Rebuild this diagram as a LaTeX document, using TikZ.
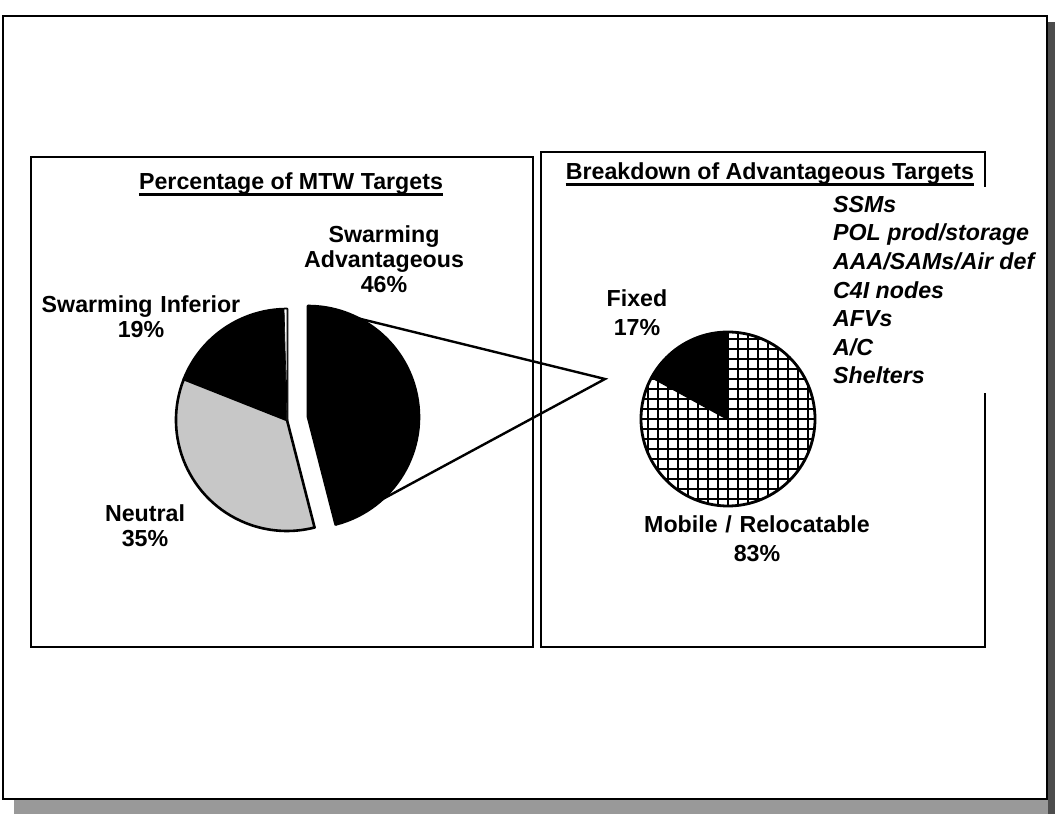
\documentclass[tikz,border=0pt]{standalone}
\usepackage{fontspec}
\setmainfont{Liberation Sans}
\usepackage{tikz}

\begin{document}
\begin{tikzpicture}[x=1pt, y=1pt,
    lbl/.style={font=\fontsize{23.2}{25}\selectfont\bfseries, align=center, text width=260pt, anchor=base, inner sep=0pt},
    lblwide/.style={lbl, font=\fontsize{23.2}{28.5}\selectfont\bfseries},
    ttl/.style={font=\fontsize{23.2}{25}\selectfont\bfseries, anchor=base, inner sep=0pt},
    listbox/.style={font=\fontsize{23.2}{28.6}\selectfont\bfseries\itshape, align=left, anchor=north west, fill=white, inner xsep=4pt, inner ysep=9pt},
    uline/.style={line width=2.2pt},
    panel/.style={line width=1.1pt},
    slice/.style={draw=black, line width=2.6pt, line join=round},
    zoomline/.style={line width=2.4pt, line join=miter}]
    \useasboundingbox (0,0) rectangle (1055,814);
    \fill[black!40] (14,0) rectangle (1055,15);
    \fill[black!70] (1048,0) rectangle (1055,792);
    \draw[panel] (31,167) rectangle (533,657);
    \draw[panel] (541,167) rectangle (985,662);

    \node[ttl] (ttlLeft) at (291,624) {Percentage of MTW Targets};
    \node[ttl] (ttlRight) at (770,634) {Breakdown of Advantageous Targets};
    \draw[uline] ([yshift=-4.5pt]ttlLeft.base west) -- ([yshift=-4.5pt]ttlLeft.base east);
    \draw[uline] ([yshift=-4.5pt]ttlRight.base west) -- ([yshift=-4.5pt]ttlRight.base east);

    \coordinate (mtwC) at (287,394);
    \coordinate (advC) at (308,397);
    \filldraw[slice, fill=black] (mtwC) -- ++(90:111) arc[start angle=90, end angle=158.4, radius=111] -- cycle;
    \filldraw[slice, fill=black!22] (mtwC) -- ++(158.4:111) arc[start angle=158.4, end angle=284.4, radius=111] -- cycle;
    \filldraw[fill=white, line width=0.6pt] (mtwC) -- ++(90:111) arc[start angle=90, end angle=91.5, radius=111] -- cycle;
    \filldraw[slice, fill=black] (advC) -- ++(-75.6:111) arc[start angle=-75.6, end angle=90, radius=111] -- cycle;
    \path (advC) ++(90:111) coordinate (advTop);
    \path (advC) ++(-75.6:111) coordinate (advBot);
    \coordinate (apex) at (605,435);
    \draw[zoomline] (advTop) -- (apex) -- (advBot);

    \node[lbl] (infLbl) at (141,501) {Swarming Inferior\\19\%};
    \node[lbl] (advLbl) at (384,571) {Swarming\\Advantageous\\46\%};
    \node[lbl] (neuLbl) at (145,292) {Neutral\\35\%};

    \coordinate (brkC) at (728,395);
    \fill[white] (brkC) circle[radius=87];
    \begin{scope}
      \clip (brkC) -- ++(151.2:87) arc[start angle=151.2, end angle=450, radius=87] -- cycle;
      \draw[line width=2.6pt, shift={(728,395)}, step=10pt] (-100,-100) grid (100,100);
    \end{scope}
    \fill[black] (brkC) -- ++(90:87) arc[start angle=90, end angle=151.2, radius=87] -- cycle;
    \draw[line width=2.4pt] (brkC) -- ++(151.2:87);
    \draw[line width=2.8pt] (brkC) circle[radius=87];

    \node[lblwide] (fixLbl) at (637,507) {Fixed\\17\%};
    \node[lblwide] (mobLbl) at (757,281) {Mobile / Relocatable\\83\%};
    \node[listbox] (tgtList) at (829,627) {SSMs\\POL prod/storage\\AAA/SAMs/Air def\\C4I nodes\\AFVs\\A/C\\Shelters};

    \draw[line width=2.6pt] (3,15) rectangle (1047,798);
\end{tikzpicture}
\end{document}
